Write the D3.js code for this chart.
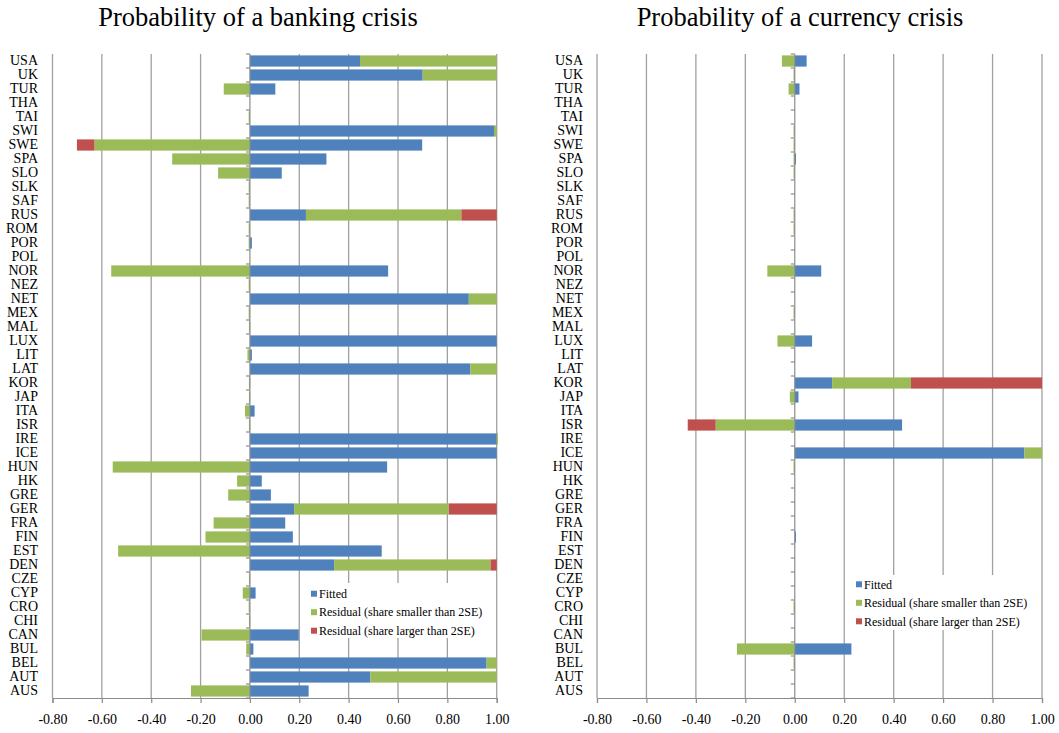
<!DOCTYPE html>
<meta charset="utf-8">
<head>
<style>
  body { margin: 0; background: #fff; }
  text { font-family: "Liberation Serif", "Times New Roman", serif; fill: #000; }
</style>
</head>
<script src="https://cdn.jsdelivr.net/npm/d3@7"></script>
<body>
<div id="chart"></div>
</body>
<script>

// categories, top to bottom
var countries = ["USA","UK","TUR","THA","TAI","SWI","SWE","SPA","SLO","SLK","SAF","RUS","ROM","POR","POL",
  "NOR","NEZ","NET","MEX","MAL","LUX","LIT","LAT","KOR","JAP","ITA","ISR","IRE","ICE","HUN","HK","GRE",
  "GER","FRA","FIN","EST","DEN","CZE","CYP","CRO","CHI","CAN","BUL","BEL","AUT","AUS"];

// banking crisis
var bankFitted = [0.446,0.70,0.103,0,0,0.989,0.698,0.31,0.129,0,0,0.227,0,0.008,0,
  0.56,0,0.887,0,0,1.0,0.008,0.893,0,0,0.019,0,1.0,1.0,0.556,0.048,0.085,
  0.179,0.143,0.174,0.534,0.341,0,0.023,0,0,0.198,0.014,0.959,0.488,0.238];
var bankResSmall = [0.554,0.30,-0.106,0,-0.005,0.011,-0.63,-0.315,-0.129,-0.005,-0.005,0.63,-0.005,-0.005,0,
  -0.562,-0.005,0.113,-0.005,-0.004,0,-0.01,0.107,-0.004,-0.004,-0.02,-0.004,0.005,0,-0.556,-0.052,-0.088,
  0.627,-0.147,-0.18,-0.534,0.634,-0.004,-0.029,-0.005,-0.004,-0.196,-0.015,0.041,0.512,-0.239];
var bankResLarge = [0,0,0,0,0,0,-0.071,0,0,0,0,0.143,0,0,0,
  0,0,0,0,0,0,0,0,0,0,0,0,0,0,0,0,0,
  0.194,0,0,0,0.025,0,0,0,0,0,0,0,0,0];

// currency crisis
var curFitted = [0.048,0,0.019,0,0,0,0,0.005,0,0,0,0,0,0,0,
  0.107,0,0,0,0,0.07,0,0,0.151,0.015,0,0.434,0,0.929,0,0,0,
  0,0,0.002,0,0,0,0,0,0,0,0.229,0,0,0];
var curResSmall = [-0.052,-0.005,-0.025,0,0,-0.005,-0.005,-0.005,-0.005,0,0,-0.005,-0.005,0,0,
  -0.111,0,0,-0.005,0,-0.07,0,0,0.319,-0.02,0,-0.32,0,0.071,-0.005,0,0,
  0,0,0,0,0,0,0,-0.005,0,0,-0.234,-0.005,0,0];
var curResLarge = [0,0,0,0,0,0,0,0,0,0,0,0,0,0,0,
  0,0,0,0,0,0,0,0,0.53,0,0,-0.113,0,0,0,0,0,
  0,0,0,0,0,0,0,0,0,0,0,0,0,0];

var xTicks = [-0.8,-0.6,-0.4,-0.2,0,0.2,0.4,0.6,0.8,1.0];
var seriesNames = ["Fitted", "Residual (share smaller than 2SE)", "Residual (share larger than 2SE)"];
var colors = ["#4F81BD", "#9BBB59", "#C0504D"];

var svg = d3.select("#chart").append("svg")
  .attr("width", 1059)
  .attr("height", 733);

var plotTop = 54, plotBottom = 698;
var serif = "'Liberation Serif', 'Times New Roman', serif";

function drawPanel(opt) {
  var g = svg.append("g");

  var x = d3.scaleLinear().domain([-0.8, 1.0]).range([opt.left, opt.right]);
  var y = d3.scaleBand().domain(countries).range([plotTop, plotBottom])
    .paddingInner(0.2).paddingOuter(0.1);

  // title
  g.append("text")
    .attr("x", opt.titleX)
    .attr("y", 26)
    .attr("text-anchor", "middle")
    .style("font-size", "26.5px")
    .text(opt.title);

  // vertical gridlines
  g.append("g").selectAll("line")
    .data(xTicks.filter(function(d) { return d !== 0; }))
    .enter().append("line")
      .attr("x1", function(d) { return x(d); })
      .attr("x2", function(d) { return x(d); })
      .attr("y1", plotTop)
      .attr("y2", plotBottom)
      .attr("stroke", "#a0a0a0")
      .attr("stroke-width", 1.3);

  // stacked bars (positive and negative stacks)
  var rows = countries.map(function(c, i) {
    return { country: c, fitted: opt.fitted[i], small: opt.small[i], large: opt.large[i] };
  });
  var stack = d3.stack()
    .keys(["fitted", "small", "large"])
    .offset(d3.stackOffsetDiverging);
  var layers = stack(rows);

  g.append("g").selectAll("g")
    .data(layers)
    .enter().append("g")
      .attr("fill", function(d, i) { return colors[i]; })
    .selectAll("rect")
    .data(function(d) { return d.filter(function(p) { return p[1] - p[0] !== 0; }); })
    .enter().append("rect")
      .attr("x", function(d) { return x(d[0]); })
      .attr("width", function(d) { return Math.max(1.2, x(d[1]) - x(d[0])); })
      .attr("y", function(d) { return y(d.data.country); })
      .attr("height", y.bandwidth());

  // vertical axis at zero with boundary ticks
  var ax = g.append("g").attr("stroke", "#8c8c8c").attr("stroke-width", 1.2);
  ax.append("line")
    .attr("x1", x(0)).attr("x2", x(0))
    .attr("y1", plotTop).attr("y2", plotBottom);
  ax.selectAll(".tk")
    .data(d3.range(countries.length + 1))
    .enter().append("line")
      .attr("class", "tk")
      .attr("x1", x(0) - 4).attr("x2", x(0))
      .attr("y1", function(i) { return plotTop + i * y.step(); })
      .attr("y2", function(i) { return plotTop + i * y.step(); });

  // category labels
  var yAxis = g.append("g")
    .attr("transform", "translate(" + opt.labelX + ",0)")
    .call(d3.axisLeft(y).tickSize(0).tickPadding(0));
  yAxis.select(".domain").remove();
  yAxis.selectAll("text")
    .style("font-family", serif)
    .style("font-size", "14px");

  // bottom axis
  var xAxis = g.append("g")
    .attr("transform", "translate(0," + plotBottom + ")")
    .call(d3.axisBottom(x).tickValues(xTicks)
      .tickFormat(function(d) { return d.toFixed(2); }).tickSize(5));
  xAxis.selectAll("path, line").attr("stroke", "#8c8c8c").attr("stroke-width", 1.2);
  xAxis.selectAll("text")
    .attr("y", 26).attr("dy", 0)
    .style("font-family", serif)
    .style("font-size", "14px");

  // legend
  var lg = g.append("g");
  lg.append("rect")
    .attr("x", opt.legend.x).attr("y", opt.legend.y)
    .attr("width", opt.legend.w).attr("height", opt.legend.h)
    .attr("fill", "#fff");
  seriesNames.forEach(function(name, i) {
    var cy = opt.legend.y + opt.legend.first + i * 18.5;
    lg.append("rect")
      .attr("x", opt.legend.x + opt.legend.mx)
      .attr("y", cy - 3)
      .attr("width", 6).attr("height", 6)
      .attr("fill", colors[i]);
    lg.append("text")
      .attr("x", opt.legend.x + opt.legend.mx + 8)
      .attr("y", cy)
      .attr("dy", "0.35em")
      .style("font-size", "12px")
      .text(name);
  });
}

drawPanel({
  title: "Probability of a banking crisis",
  titleX: 258,
  left: 52.5, right: 496.7,
  labelX: 38,
  fitted: bankFitted, small: bankResSmall, large: bankResLarge,
  legend: { x: 301, y: 583, w: 193, h: 55, mx: 10, first: 10.7 }
});

drawPanel({
  title: "Probability of a currency crisis",
  titleX: 800,
  left: 597, right: 1042,
  labelX: 583,
  fitted: curFitted, small: curResSmall, large: curResLarge,
  legend: { x: 845, y: 575, w: 193, h: 55, mx: 11, first: 9.3 }
});

</script>
